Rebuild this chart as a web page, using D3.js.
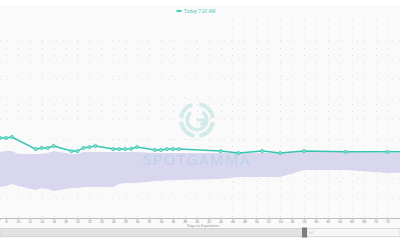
<!DOCTYPE html>
<html>
<head>
<meta charset="utf-8">
<script src="https://cdn.jsdelivr.net/npm/d3@7"></script>
<style>
  body { margin: 0; background: #fff; }
  svg { display: block; font-family: "Open Sans", "DejaVu Sans", sans-serif; }
</style>
</head>
<body>
<div id="chart"></div>
<script>
// days to expiration for the "Today" curve
var lineDays = [7, 8, 9, 13, 14, 15, 16, 19, 20, 21, 22, 23, 26, 27, 28, 29, 30,
                33, 34, 35, 36, 37, 44, 47, 51, 54, 58, 65, 72, 79];
var lineVals = [30.2, 30.2, 30.45, 27.4, 27.7, 27.7, 28.2, 26.9, 26.9, 27.7, 27.9, 28.2,
                27.4, 27.4, 27.4, 27.5, 27.9, 27.2, 27.2, 27.4, 27.4, 27.4,
                26.9, 26.4, 26.9, 26.4, 26.9, 26.7, 26.7, 26.7];

// historical range band
var bandDays = [7, 8, 9, 10, 13, 14, 15, 16, 19, 20, 21, 23, 26, 27, 28, 30, 33, 37,
                44, 47, 54, 58, 65, 72, 79];
var bandHigh = [26.67, 26.92, 26.92, 26.16, 26.16, 26.16, 26.41, 26.92, 26.16, 26.16,
                26.67, 26.67, 26.67, 26.67, 26.67, 26.67, 26.41, 26.41,
                26.41, 26.41, 26.41, 26.67, 26.67, 26.41, 26.41];
var bandLow  = [17.83, 18.08, 18.59, 18.08, 17.07, 17.58, 17.32, 16.82, 17.58, 17.58,
                17.83, 17.83, 17.83, 18.59, 18.84, 18.84, 19.34, 19.6,
                19.85, 20.35, 20.35, 22.12, 22.12, 21.36, 21.62];

var tickDays = d3.range(8, 73, 2);
var legendLabel = "Today 7:20 AM";
var axisTitle = "Days to Expiration";

var w = 400, h = 250;
var plotTop = 20, axisY = 218;

var svg = d3.select("#chart").append("svg")
    .attr("width", w)
    .attr("height", h);

svg.append("rect")
    .attr("x", 0).attr("y", 5)
    .attr("width", w).attr("height", 233)
    .attr("fill", "#fafafa");

var x = d3.scaleLinear().domain([7, 74.1]).range([0, w]);
var y = d3.scaleLinear().domain([10, 60]).range([axisY, plotTop]);

svg.append("clipPath").attr("id", "clip")
  .append("rect").attr("x", 0).attr("y", plotTop).attr("width", w).attr("height", axisY - plotTop);

// grid, dotted
svg.append("g")
    .selectAll("line")
    .data(tickDays)
    .enter().append("line")
    .attr("x1", function(d) { return Math.round(x(d)) + 0.5; })
    .attr("x2", function(d) { return Math.round(x(d)) + 0.5; })
    .attr("y1", plotTop).attr("y2", axisY)
    .attr("stroke", "#dedede")
    .attr("stroke-width", 1)
    .attr("stroke-dasharray", "1,6");

svg.append("g")
    .selectAll("line")
    .data(d3.range(15, 60, 5))
    .enter().append("line")
    .attr("x1", 0).attr("x2", w)
    .attr("y1", function(d) { return Math.round(y(d)) + 0.5; })
    .attr("y2", function(d) { return Math.round(y(d)) + 0.5; })
    .attr("stroke", "#e8e8e8")
    .attr("stroke-dasharray", "1,6");

// watermark
var logo = svg.append("g")
    .attr("transform", "translate(197,120)")
    .attr("opacity", 0.45);
var arc = d3.arc();
var rings = [
  { r0: 14, r1: 18, a0: 0.15, a1: 1.45 },
  { r0: 14, r1: 18, a0: 1.7, a1: 3.0 },
  { r0: 14, r1: 18, a0: 3.3, a1: 4.6 },
  { r0: 14, r1: 18, a0: 4.85, a1: 6.0 },
  { r0: 8, r1: 11.5, a0: 0.6, a1: 5.6 }
];
logo.selectAll("path")
    .data(rings)
    .enter().append("path")
    .attr("d", function(d) {
      return arc({ innerRadius: d.r0, outerRadius: d.r1, startAngle: d.a0, endAngle: d.a1 });
    })
    .attr("fill", "#a6dcd8");
logo.append("path")
    .attr("d", "M0,0 H7 V4 H3")
    .attr("fill", "none")
    .attr("stroke", "#a6dcd8")
    .attr("stroke-width", 3);

var plot = svg.append("g").attr("clip-path", "url(#clip)");

// band
var bandData = bandDays.map(function(d, i) { return { d: d, hi: bandHigh[i], lo: bandLow[i] }; });
plot.append("path")
    .datum(bandData)
    .attr("d", d3.area()
      .x(function(p) { return x(p.d); })
      .y0(function(p) { return y(p.lo); })
      .y1(function(p) { return y(p.hi); }))
    .attr("fill", "#d9d7f0");

svg.append("text")
    .attr("x", 197).attr("y", 165)
    .attr("text-anchor", "middle")
    .attr("font-size", 15)
    .attr("letter-spacing", 1.5)
    .attr("fill", "#a9cfe0")
    .attr("opacity", 0.6)
    .text("SPOTGAMMA");

// line
var lineData = lineDays.map(function(d, i) { return { d: d, v: lineVals[i] }; });
plot.append("path")
    .datum(lineData)
    .attr("d", d3.line()
      .x(function(p) { return x(p.d); })
      .y(function(p) { return y(p.v); }))
    .attr("fill", "none")
    .attr("stroke", "#35c6b0")
    .attr("stroke-width", 1.5);

plot.selectAll("circle")
    .data(lineData)
    .enter().append("circle")
    .attr("cx", function(p) { return x(p.d); })
    .attr("cy", function(p) { return y(p.v); })
    .attr("r", 1.6)
    .attr("fill", "#8fe0d4")
    .attr("stroke", "#35c6b0")
    .attr("stroke-width", 0.8);

// x axis
var xAxis = d3.axisBottom(x)
    .tickValues(tickDays)
    .tickSize(2)
    .tickPadding(1)
    .tickFormat(d3.format("d"));
var gx = svg.append("g")
    .attr("transform", "translate(0," + axisY + ")")
    .call(xAxis);
gx.select(".domain").attr("stroke", "#bdbdbd");
gx.selectAll(".tick line").attr("stroke", "#bdbdbd");
gx.selectAll("text").attr("font-size", 3.5).attr("fill", "#888");

svg.append("text")
    .attr("x", 203).attr("y", 227)
    .attr("text-anchor", "middle")
    .attr("font-size", 3.8)
    .attr("fill", "#888")
    .text(axisTitle);

// legend
svg.append("line")
    .attr("x1", 176).attr("x2", 182)
    .attr("y1", 11).attr("y2", 11)
    .attr("stroke", "#35c6b0").attr("stroke-width", 1.2);
svg.append("circle")
    .attr("cx", 179).attr("cy", 11).attr("r", 1.2)
    .attr("fill", "#35c6b0");
svg.append("text")
    .attr("x", 184).attr("y", 12.6)
    .attr("font-size", 4.6)
    .attr("fill", "#35c6b0")
    .text(legendLabel);

// navigator strip
svg.append("rect")
    .attr("x", 0).attr("y", 228.5)
    .attr("width", 303).attr("height", 8)
    .attr("fill", "#e2e2e2").attr("stroke", "#cfcfcf").attr("stroke-width", 0.8);
svg.append("rect")
    .attr("x", 307).attr("y", 228.5)
    .attr("width", 93).attr("height", 8)
    .attr("fill", "#f6f6f6").attr("stroke", "#d4d4d4").attr("stroke-width", 0.8);
svg.append("rect")
    .attr("x", 302).attr("y", 227.5)
    .attr("width", 5).attr("height", 10)
    .attr("fill", "#7d7d7d");
svg.append("text")
    .attr("x", 309).attr("y", 234)
    .attr("font-size", 4)
    .attr("fill", "#aaa")
    .text("(c)");
</script>
</body>
</html>
